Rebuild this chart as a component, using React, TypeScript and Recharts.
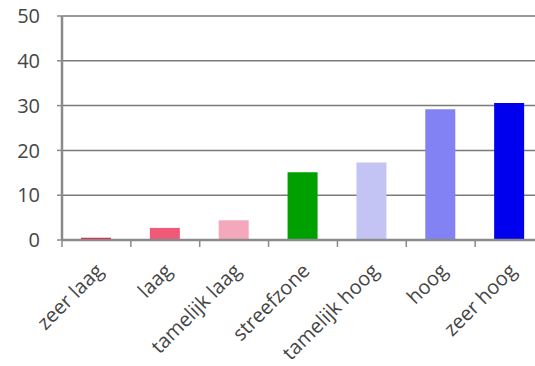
import { Bar, BarChart, CartesianGrid, Cell, XAxis, YAxis } from 'recharts'

const categories = ['zeer laag', 'laag', 'tamelijk laag', 'streefzone', 'tamelijk hoog', 'hoog', 'zeer hoog']
const values = [0.5, 2.7, 4.4, 15.1, 17.3, 29.2, 30.6]
const barColors = ['#e8174a', '#f05a78', '#f4a8bc', '#00a000', '#c4c4f4', '#8282f4', '#0000ee']
const yTicks = [0, 10, 20, 30, 40, 50]

const data = categories.map((name, i) => ({ name, value: values[i] }))

const AXIS_COLOR = '#8a8a8a'
const TEXT_COLOR = '#454545'
const FONT = '"Open Sans", "Noto Sans", sans-serif'

// rotated category label plus a tick mark on the left band edge
function CategoryTick(props: any) {
  const { x, y, payload, index } = props
  const half = payload?.offset ?? 34
  const last = index === categories.length - 1
  const ax = x + 8
  const ay = y + 24
  return (
    <g>
      <line x1={x - half} x2={x - half} y1={y - 8} y2={y - 1} stroke={AXIS_COLOR} strokeWidth={1.5} />
      {last && <line x1={x + half} x2={x + half} y1={y - 8} y2={y - 1} stroke={AXIS_COLOR} strokeWidth={1.5} />}
      <text
        x={ax}
        y={ay}
        transform={`rotate(-45, ${ax}, ${ay})`}
        textAnchor="end"
        fill={TEXT_COLOR}
        fontSize={20}
        fontFamily={FONT}
      >
        {payload.value}
      </text>
    </g>
  )
}

export default function App() {
  return (
    <div style={{ position: 'absolute', left: 0, top: 0, width: 535, height: 366, background: '#fff', overflow: 'hidden' }}>
      <BarChart width={546} height={366} data={data} margin={{ top: 16, right: 2, left: 0, bottom: 0 }} barSize={30}>
        <CartesianGrid vertical={false} stroke="#7a7a7a" strokeWidth={1.5} />
        <XAxis
          dataKey="name"
          height={126}
          interval={0}
          tickLine={false}
          axisLine={{ stroke: AXIS_COLOR, strokeWidth: 2.5 }}
          tick={<CategoryTick />}
        />
        <YAxis
          width={62}
          domain={[0, 50]}
          ticks={yTicks}
          interval={0}
          tickSize={5}
          tickMargin={17}
          tickLine={{ stroke: AXIS_COLOR, strokeWidth: 1.5 }}
          axisLine={{ stroke: AXIS_COLOR, strokeWidth: 2.5 }}
          tick={{ fill: TEXT_COLOR, fontSize: 20, fontFamily: FONT }}
        />
        <Bar dataKey="value" isAnimationActive={false}>
          {data.map((d, i) => (
            <Cell key={d.name} fill={barColors[i]} />
          ))}
        </Bar>
      </BarChart>
    </div>
  )
}
